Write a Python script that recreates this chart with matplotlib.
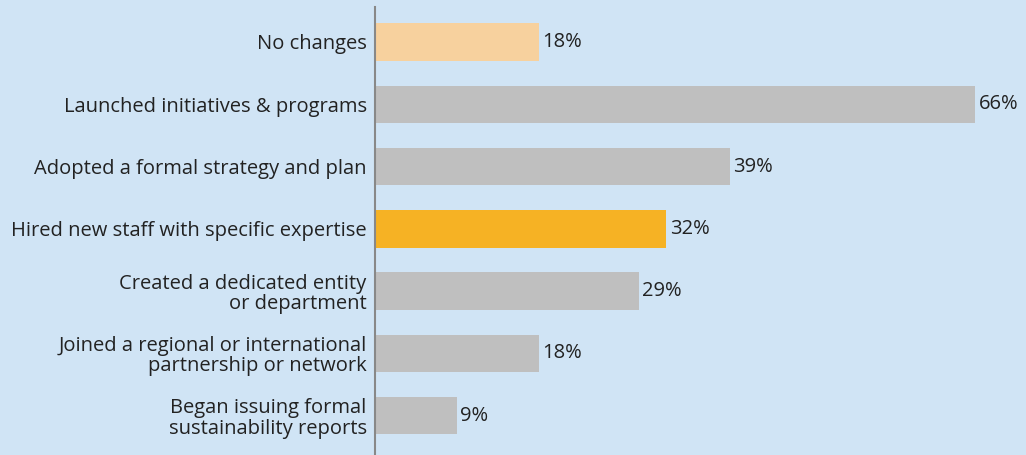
import matplotlib.pyplot as plt

categories = ['No changes', 'Launched initiatives & programs', 'Adopted a formal strategy and plan',
              'Hired new staff with specific expertise', 'Created a dedicated entity\nor department',
              'Joined a regional or international\npartnership or network',
              'Began issuing formal\nsustainability reports']
values = [18, 66, 39, 32, 29, 18, 9]
colors = ['#F7D19E', '#BFBFBF', '#BFBFBF', '#F6B224', '#BFBFBF', '#BFBFBF', '#BFBFBF']

bg = '#D0E4F5'
plt.rcParams['font.family'] = ['Open Sans', 'DejaVu Sans']

fig = plt.figure(figsize=(10.26, 4.55), dpi=100, facecolor=bg)
ax = fig.add_axes([375 / 1026, 0, 1 - 375 / 1026, 448 / 455])
ax.set_facecolor(bg)

pos = list(range(len(categories)))
ax.barh(pos, values, height=0.6, color=colors)
for p, v in zip(pos, values):
    ax.text(v + 0.4, p, f'{v}%', va='center', ha='left', fontsize=14.5, color='#222222')

ax.set_ylim(6.63, -0.56)
ax.set_xlim(0, 71.6)
ax.set_yticks(pos)
ax.set_yticklabels(categories, fontsize=14.5, color='#222222', linespacing=1.02)
ax.tick_params(axis='y', length=0, pad=6)
ax.set_xticks([])
for s in ['top', 'right', 'bottom']:
    ax.spines[s].set_visible(False)
ax.spines['left'].set_color('#888888')
ax.spines['left'].set_linewidth(1.5)

fig.savefig('out.png', dpi=100, facecolor=bg)
